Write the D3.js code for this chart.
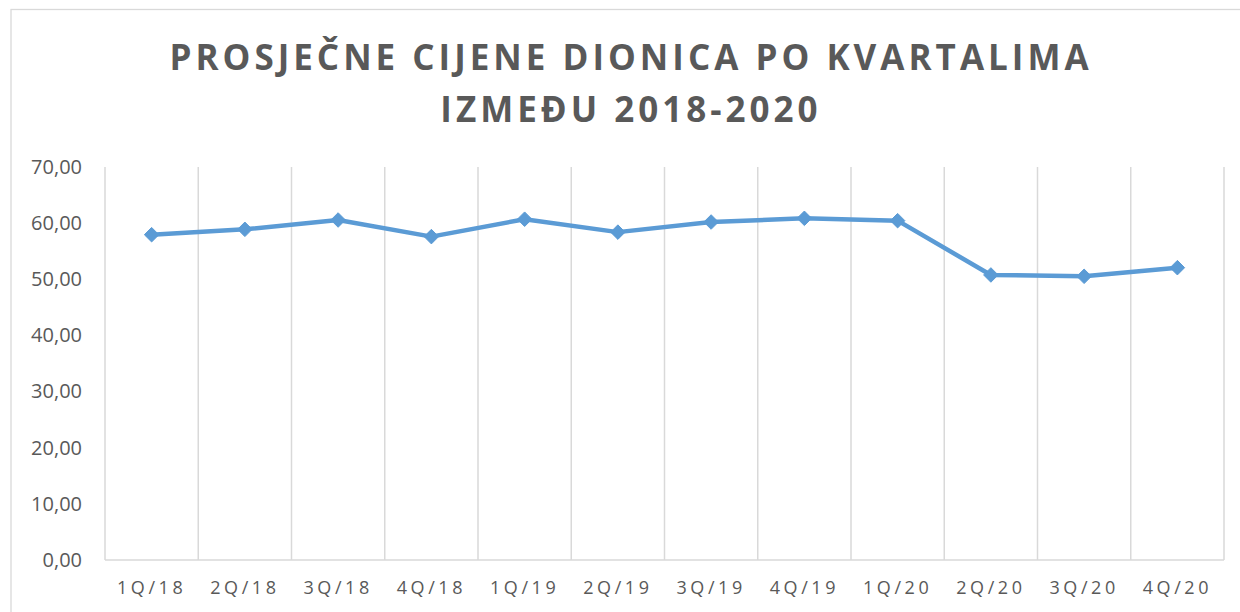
<!DOCTYPE html>
<html>
<head>
<meta charset="utf-8">
<script src="https://cdn.jsdelivr.net/npm/d3@7"></script>
<style>
  body { margin: 0; background: #fff; }
  svg { display: block; }
</style>
</head>
<body>
<div id="chart"></div>
<script>
// data
var quarters = ["1Q/18", "2Q/18", "3Q/18", "4Q/18", "1Q/19", "2Q/19", "3Q/19", "4Q/19", "1Q/20", "2Q/20", "3Q/20", "4Q/20"];
var prices = [57.94, 58.9, 60.56, 57.6, 60.7, 58.4, 60.2, 60.86, 60.44, 50.77, 50.53, 52.07];
var yTicks = [0, 10, 20, 30, 40, 50, 60, 70];
var titleLines = ["PROSJEČNE CIJENE DIONICA PO KVARTALIMA", "IZMEĐU 2018-2020"];

// setup
var w = 1240, h = 612;
var margin = {left: 105, right: 16, top: 167, bottom: 52};
var grey = "#595959", gridGrey = "#d9d9d9", blue = "#5b9bd5";

var svg = d3.select("#chart").append("svg")
    .attr("width", w)
    .attr("height", h);

// chart frame (cut off at right and bottom like the original)
svg.append("rect")
    .attr("x", 11).attr("y", 9.5)
    .attr("width", w + 20).attr("height", h + 20)
    .attr("fill", "none")
    .attr("stroke", gridGrey)
    .attr("stroke-width", 1.3);

// title
svg.append("g").selectAll("text")
    .data(titleLines)
    .enter()
    .append("text")
        .attr("x", 631)
        .attr("y", function(d, i){ return 70 + i * 52; })
        .attr("text-anchor", "middle")
        .attr("font-family", "'Open Sans', sans-serif")
        .attr("font-weight", "bold")
        .attr("font-size", 35)
        .attr("letter-spacing", 4.0)
        .attr("fill", grey)
        .text(function(d){ return d; });

var x = d3.scaleBand()
    .domain(quarters)
    .range([margin.left, w - margin.right])
    .padding(0);
var y = d3.scaleLinear()
    .domain([0, 70])
    .range([h - margin.bottom, margin.top]);

// vertical gridlines at category boundaries
var edges = quarters.map(function(q){ return x(q); }).concat([x.range()[1]]);
svg.append("g").selectAll("line")
    .data(edges)
    .enter()
    .append("line")
        .attr("x1", function(d){ return d; })
        .attr("x2", function(d){ return d; })
        .attr("y1", y(70))
        .attr("y2", y(0))
        .attr("stroke", gridGrey)
        .attr("stroke-width", 1.5);

// baseline
svg.append("line")
    .attr("x1", x.range()[0]).attr("x2", x.range()[1])
    .attr("y1", y(0)).attr("y2", y(0))
    .attr("stroke", gridGrey)
    .attr("stroke-width", 1.5);

// y axis labels
var fmt = function(v){ return d3.format(".2f")(v).replace(".", ","); };
var yAxis = svg.append("g")
    .attr("transform", "translate(" + (margin.left - 23) + ",0)")
    .call(d3.axisLeft(y).tickValues(yTicks).tickFormat(fmt).tickSize(0).tickPadding(0));
yAxis.select(".domain").remove();
yAxis.selectAll("text")
    .attr("font-family", "'Open Sans', sans-serif")
    .attr("font-size", 20)
    .attr("fill", grey);

// x axis labels
var xAxis = svg.append("g")
    .attr("transform", "translate(0," + y(0) + ")")
    .call(d3.axisBottom(x).tickSize(0).tickPadding(21));
xAxis.select(".domain").remove();
xAxis.selectAll("text")
    .attr("font-family", "'Open Sans', sans-serif")
    .attr("font-size", 18)
    .attr("letter-spacing", 3.6)
    .attr("fill", grey);

// line
var line = d3.line()
    .x(function(d, i){ return x(quarters[i]) + x.bandwidth() / 2; })
    .y(function(d){ return y(d); });
svg.append("path")
    .datum(prices)
    .attr("d", line)
    .attr("fill", "none")
    .attr("stroke", blue)
    .attr("stroke-width", 4.5)
    .attr("stroke-linejoin", "round")
    .attr("stroke-linecap", "round");

// diamond markers
svg.append("g").selectAll("path")
    .data(prices)
    .enter()
    .append("path")
        .attr("transform", function(d, i){
            return "translate(" + (x(quarters[i]) + x.bandwidth() / 2) + "," + y(d) + ")";
        })
        .attr("d", d3.symbol().type(d3.symbolDiamond2).size(135))
        .attr("fill", blue)
        .attr("stroke", blue)
        .attr("stroke-width", 1);
</script>
</body>
</html>
